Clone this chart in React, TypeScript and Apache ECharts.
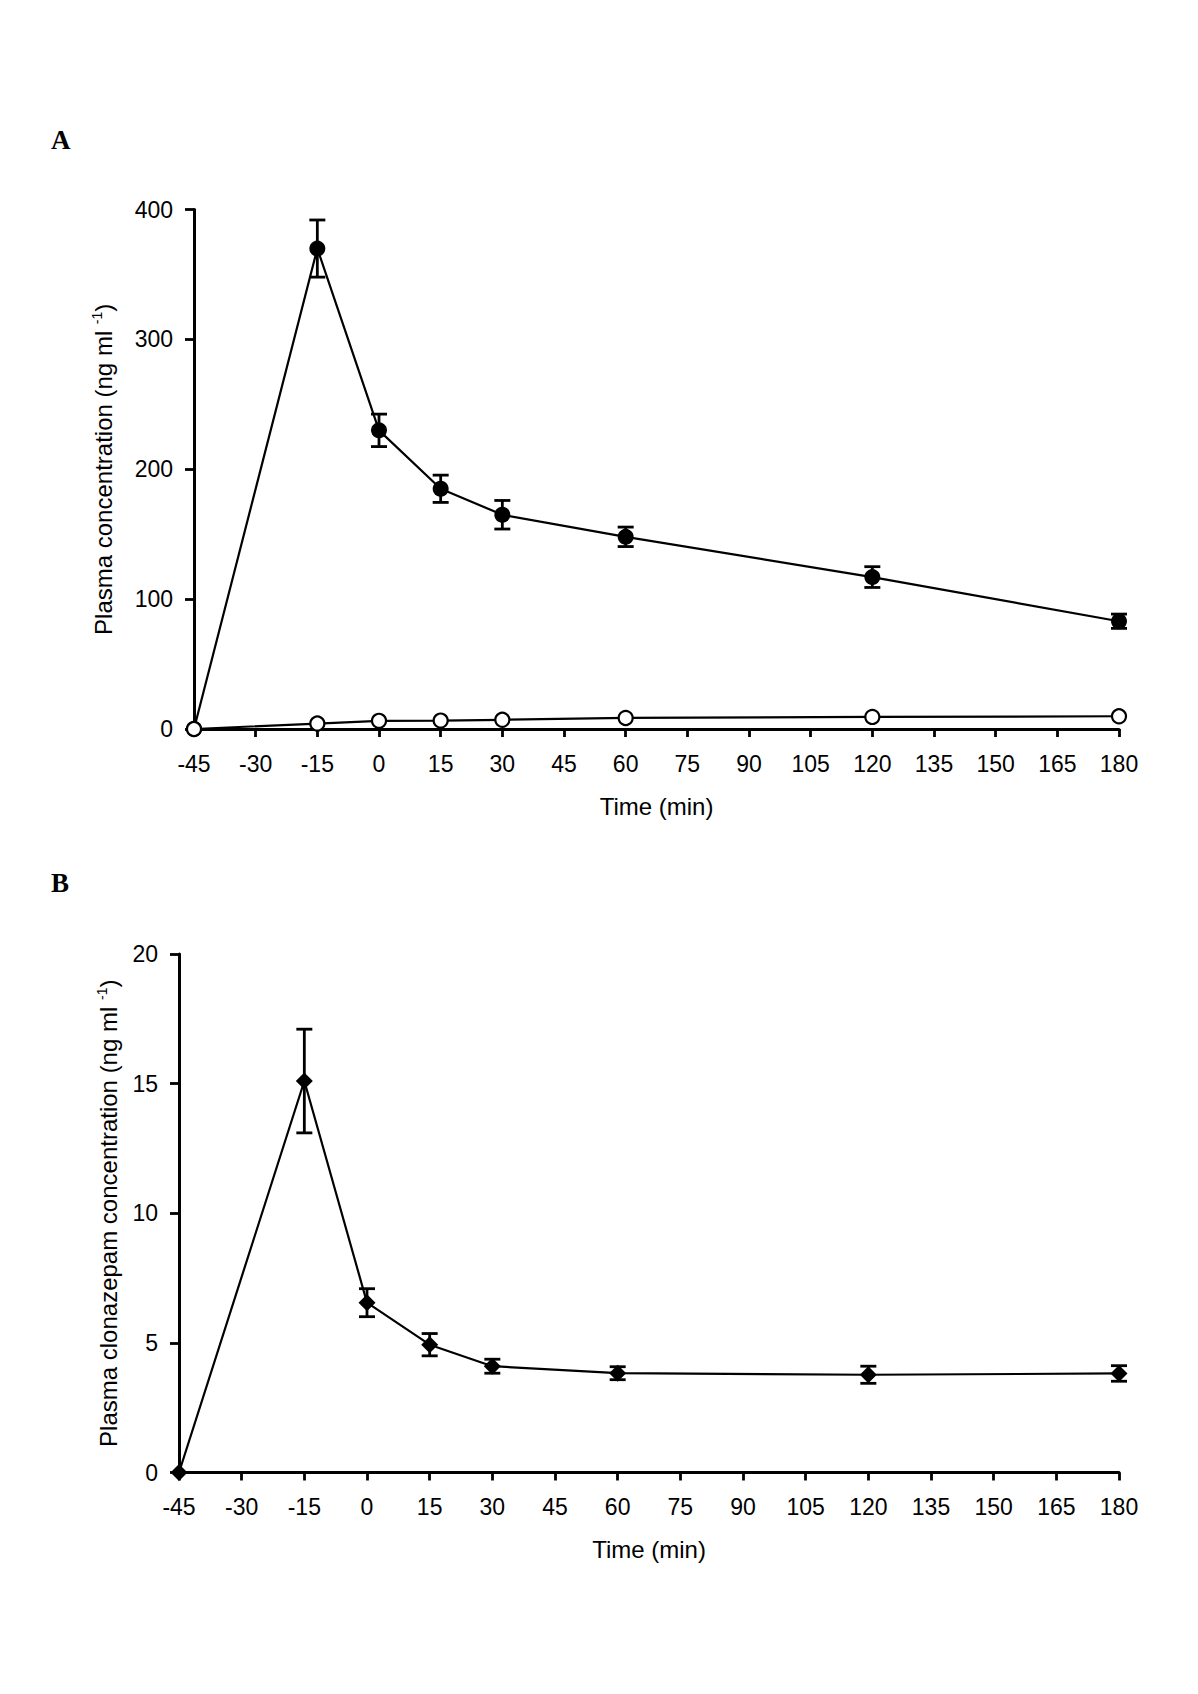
import React, { useEffect, useRef } from "react";
import * as echarts from "echarts";

const times = [-45, -15, 0, 15, 30, 60, 120, 180];
const filledA = [0, 370, 230, 185, 165, 148, 117, 83];
const filledAErr = [0, 22, 12.5, 10.5, 11, 7.5, 8, 5.5];
const openA = [0, 4.2, 6.3, 6.5, 7.1, 8.5, 9.3, 9.8];
const clonB = [0, 15.1, 6.55, 4.93, 4.1, 3.83, 3.77, 3.82];
const clonBErr = [0, 2.0, 0.54, 0.43, 0.27, 0.25, 0.33, 0.3];
const xTicks = { min: -45, max: 180, interval: 15 };
const yTicksA = { min: 0, max: 400, interval: 100 };
const yTicksB = { min: 0, max: 20, interval: 5 };

const FONT = "'Liberation Sans', Arial, sans-serif";

function errorSeries(vals: number[], errs: number[], idx: number) {
  return {
    type: "custom",
    xAxisIndex: idx,
    yAxisIndex: idx,
    silent: true,
    clip: false,
    z: 4,
    encode: { x: 0, y: 1 },
    data: times.map((t, i) => [t, vals[i], errs[i]]),
    renderItem: (params: any, api: any) => {
      const x = api.value(0);
      const y = api.value(1);
      const e = api.value(2);
      if (!e) return { type: "group", children: [] };
      const top = api.coord([x, y + e]);
      const bot = api.coord([x, y - e]);
      const hw = 8;
      const style = { stroke: "#000", lineWidth: 2.8 };
      return {
        type: "group",
        children: [
          { type: "line", shape: { x1: top[0], y1: top[1], x2: bot[0], y2: bot[1] }, style },
          { type: "line", shape: { x1: top[0] - hw, y1: top[1], x2: top[0] + hw, y2: top[1] }, style },
          { type: "line", shape: { x1: bot[0] - hw, y1: bot[1], x2: bot[0] + hw, y2: bot[1] }, style },
        ],
      };
    },
  };
}

function xAxisCfg(idx: number) {
  return {
    type: "value",
    gridIndex: idx,
    ...xTicks,
    name: "Time (min)",
    nameLocation: "middle",
    nameGap: 65,
    nameTextStyle: { fontFamily: FONT, fontSize: 24, color: "#000", verticalAlign: "top" },
    axisLine: { show: true, onZero: false, lineStyle: { color: "#000", width: 3 } },
    axisTick: { show: true, length: 8, inside: false, lineStyle: { color: "#000", width: 2.8 } },
    axisLabel: { fontFamily: FONT, fontSize: 23, color: "#000", margin: 23 },
    splitLine: { show: false },
  };
}

function yAxisCfg(idx: number, ticks: any, name: string, gap: number) {
  return {
    type: "value",
    gridIndex: idx,
    ...ticks,
    name,
    nameLocation: "middle",
    nameRotate: 90,
    nameGap: gap,
    nameTextStyle: {
      fontFamily: FONT,
      fontSize: 24,
      color: "#000",
      rich: {
        sup: { fontFamily: FONT, fontSize: 14, color: "#000", verticalAlign: "top", padding: [0, 0, 12, 0] },
      },
    },
    axisLine: { show: true, onZero: false, lineStyle: { color: "#000", width: 3 } },
    axisTick: { show: true, length: 9, inside: false, lineStyle: { color: "#000", width: 2.8 } },
    axisLabel: { fontFamily: FONT, fontSize: 23, color: "#000", margin: 21 },
    splitLine: { show: false },
  };
}

export default function App() {
  const ref = useRef<HTMLDivElement>(null);
  useEffect(() => {
    if (!ref.current) return;
    const chart = echarts.init(ref.current, null, { renderer: "svg" });
    chart.setOption({
      animation: false,
      backgroundColor: "#fff",
      grid: [
        { left: 194, top: 209.6, width: 925, height: 519.4 },
        { left: 179, top: 954, width: 940, height: 518.5 },
      ],
      xAxis: [xAxisCfg(0), xAxisCfg(1)],
      yAxis: [
        yAxisCfg(0, yTicksA, "Plasma concentration (ng ml {sup|-1})", 78),
        yAxisCfg(1, yTicksB, "Plasma clonazepam concentration (ng ml {sup|-1})", 58),
      ],
      graphic: [
        { type: "text", left: 51, top: 126, style: { text: "A", fontFamily: "'Liberation Serif', 'Times New Roman', serif", fontWeight: "bold", fontSize: 27, fill: "#000" } },
        { type: "text", left: 51, top: 869, style: { text: "B", fontFamily: "'Liberation Serif', 'Times New Roman', serif", fontWeight: "bold", fontSize: 27, fill: "#000" } },
      ],
      series: [
        {
          type: "line",
          xAxisIndex: 0,
          yAxisIndex: 0,
          silent: true,
          clip: false,
          z: 3,
          data: times.map((t, i) => [t, filledA[i]]),
          symbol: "circle",
          symbolSize: 16,
          itemStyle: { color: "#000" },
          lineStyle: { color: "#000", width: 2.2 },
        },
        errorSeries(filledA, filledAErr, 0),
        {
          type: "line",
          xAxisIndex: 0,
          yAxisIndex: 0,
          silent: true,
          clip: false,
          z: 5,
          data: times.map((t, i) => [t, openA[i]]),
          symbol: "circle",
          symbolSize: 14,
          itemStyle: { color: "#fff", borderColor: "#000", borderWidth: 2.2 },
          lineStyle: { color: "#000", width: 2.2 },
        },
        {
          type: "line",
          xAxisIndex: 1,
          yAxisIndex: 1,
          silent: true,
          clip: false,
          z: 3,
          data: times.map((t, i) => [t, clonB[i]]),
          symbol: "diamond",
          symbolSize: 17,
          itemStyle: { color: "#000" },
          lineStyle: { color: "#000", width: 2.2 },
        },
        errorSeries(clonB, clonBErr, 1),
      ],
    });
    return () => chart.dispose();
  }, []);
  return (
    <div
      ref={ref}
      style={{ position: "absolute", left: 0, top: 0, width: 1198, height: 1694, background: "#fff" }}
    />
  );
}
